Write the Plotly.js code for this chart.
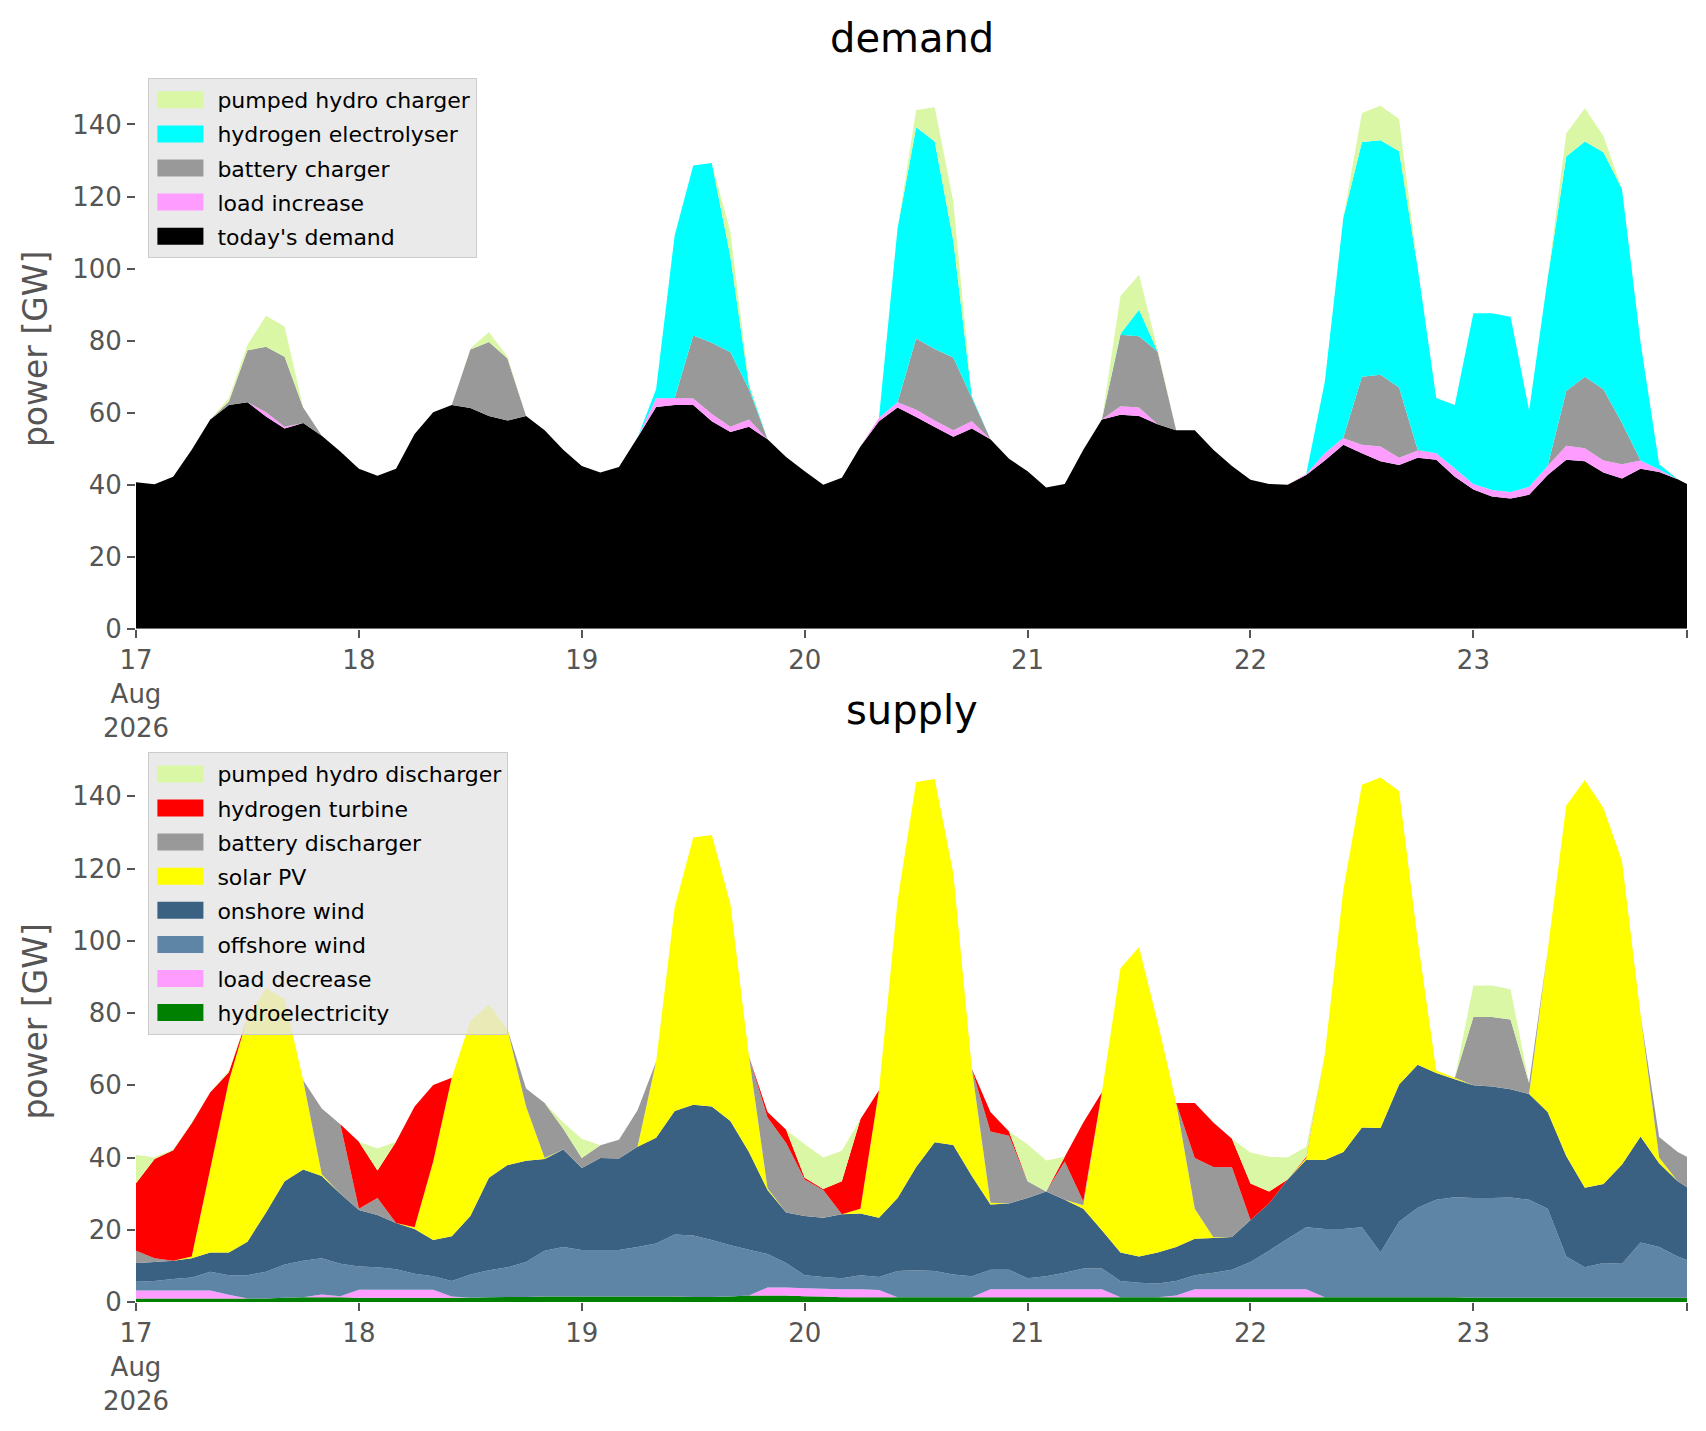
<!DOCTYPE html>
<html>
<head>
<meta charset="utf-8">
<script src="https://cdn.plot.ly/plotly-3.0.1.min.js"></script>
<style>
  body { margin: 0; background: #fff; }
  #chart { width: 1706px; height: 1431px; }
</style>
</head>
<body>
<div id="chart"></div>
<script>
// hours after 17 Aug 2026 00:00, read every two hours
const hours = [0,2,4,6,8,10,12,14,16,18,20,22,24,26,28,30,32,34,36,38,
  40,42,44,46,48,50,52,54,56,58,60,62,64,66,68,70,72,74,76,78,
  80,82,84,86,88,90,92,94,96,98,100,102,104,106,108,110,112,114,116,118,
  120,122,124,126,128,130,132,134,136,138,140,142,144,146,148,150,152,154,156,158,
  160,162,164,166,167];

// demand side [GW]
const todaysDemand = [40.7,40.1,42.2,49.7,58.1,62.1,62.9,58.9,55.6,57.1,
  53.6,49.2,44.4,42.5,44.4,54.1,60.1,62.1,61.3,59.1,
  57.8,59.1,55.1,49.7,45.2,43.4,44.9,53.1,61.6,62.1,
  62.1,57.6,54.6,56.1,52.6,47.7,43.7,40.0,41.9,50.6,
  57.6,61.4,58.8,56.0,53.3,55.6,52.6,47.2,43.7,39.2,
  40.2,49.7,58.1,59.4,59.1,56.8,55.1,55.1,49.7,45.2,
  41.4,40.2,40.0,42.7,46.7,51.1,48.7,46.5,45.5,47.5,
  46.9,42.2,38.7,36.7,36.2,37.2,42.7,46.9,46.5,43.4,
  41.7,44.4,43.5,41.5,40.2];
const loadIncrease = [0,0,0,0,0,0,0,1.2,0.5,0,
  0,0,0,0,0,0,0,0,0,0,
  0,0,0,0,0,0,0,0,2.4,2.0,
  1.8,2.0,1.5,2.0,0,0,0,0,0,0,
  1.0,1.5,2.0,1.8,1.8,2.0,0,0,0,0,
  0,0,0,2.4,2.3,0,0,0,0,0,
  0,0,0,0.3,2.0,1.8,2.4,4.1,2.0,2.0,
  1.8,2.3,1.5,1.8,1.8,2.2,2.5,3.9,3.6,3.3,
  4.0,2.3,0.7,0,0];
const batteryCharger = [0,0,0,0,0,1.0,14.4,18.2,19.4,4.3,
  0,0,0,0,0,0,0,0,16.2,20.5,
  17.2,0,0,0,0,0,0,0,0,0,
  17.5,19.8,20.7,8.4,0,0,0,0,0,0,
  0,0,19.8,19.9,20.2,6.5,0,0,0,0,
  0,0,0,19.8,19.8,20.2,0,0,0,0,
  0,0,0,0,0,0.2,18.9,19.9,19.5,0.2,
  0,0,0,0,0,0,0,15.2,19.9,19.8,
  11.4,0,0,0,0];
const electrolyser = [0,0,0,0,0,0,0,0,0,0,
  0,0,0,0,0,0,0,0,0,0,
  0,0,0,0,0,0,0,0,2.5,45.1,
  47.2,49.9,26.5,1.0,0,0,0,0,0,0,
  0,48.3,58.6,57.6,32.4,0.4,0,0,0,0,
  0,0,0,0.3,7.4,0,0,0,0,0,
  0,0,0,0,19.8,61.1,65.1,65.1,65.6,50.6,
  15.4,17.6,47.4,49.1,48.6,21.2,52.1,65.1,65.3,65.8,
  65.0,32.7,1.5,0,0];
const pumpedCharger = [0,0,0,0,0,1.0,1.5,8.6,8.4,0,
  0,0,0,0,0,0,0,0,0.3,2.8,
  0.5,0,0,0,0,0,0,0,0,0,
  0,0,6.9,0.5,0,0,0,0,0,0,
  0,0,4.8,9.5,11.0,0,0,0,0,0,
  0,0,0,10.5,9.7,0.5,0,0,0,0,
  0,0,0,0,0,0,8.1,9.6,8.9,0,
  0,0,0,0,0,0,0,6.4,9.2,4.5,
  0,0,0,0,0];

// supply side [GW]
const hydro = [1.0,1.0,1.0,1.0,1.0,1.0,1.0,1.0,1.2,1.3,
  1.3,1.3,1.2,1.2,1.2,1.2,1.2,1.2,1.2,1.3,
  1.4,1.4,1.5,1.5,1.5,1.5,1.5,1.5,1.5,1.5,
  1.4,1.4,1.5,1.8,1.8,1.8,1.6,1.5,1.3,1.3,
  1.3,1.3,1.3,1.3,1.3,1.3,1.3,1.3,1.3,1.3,
  1.3,1.3,1.3,1.3,1.3,1.3,1.3,1.3,1.3,1.3,
  1.3,1.3,1.3,1.3,1.3,1.3,1.3,1.3,1.3,1.3,
  1.3,1.3,1.2,1.2,1.2,1.2,1.2,1.2,1.2,1.2,
  1.2,1.2,1.2,1.2,1.2];
const loadDecrease = [2.2,2.2,2.2,2.2,2.2,1.0,0,0,0,0,
  0.8,0.3,2.2,2.2,2.2,2.2,2.2,0.3,0,0,
  0,0,0,0,0,0,0,0,0,0,
  0,0,0,0,2.2,2.2,2.2,2.2,2.2,2.2,
  2.0,0,0,0,0,0,2.2,2.2,2.2,2.2,
  2.2,2.2,2.2,0,0,0,0.5,2.2,2.2,2.2,
  2.2,2.2,2.2,2.2,0,0,0,0,0,0,
  0,0,0,0,0,0,0,0,0,0,
  0,0,0,0,0];
const offshoreWind = [2.4,2.6,3.2,3.6,5.2,5.4,6.4,7.4,9.2,10.1,
  10.0,9.0,6.4,6.2,5.7,4.4,3.7,4.3,6.4,7.5,
  8.2,9.7,12.7,13.7,12.9,12.9,12.9,13.7,14.7,17.2,
  17.0,15.8,14.2,12.7,9.3,6.8,3.6,3.2,3.1,3.9,
  3.6,7.3,7.5,7.3,6.3,5.8,5.4,5.4,3.1,3.6,
  4.6,5.8,5.8,4.5,4.0,3.8,4.0,3.9,4.6,5.4,
  7.6,10.7,14.0,17.2,18.9,18.9,19.4,12.4,20.9,24.8,
  27.0,27.7,27.6,27.6,27.7,27.1,24.6,11.4,8.4,9.6,
  9.4,15.3,14.0,11.4,10.4];
const onshoreWind = [5.2,5.3,5.0,5.3,5.3,6.3,9.3,16.4,23.0,25.3,
  22.8,19.4,15.7,14.5,12.8,12.4,10.1,12.4,16.2,25.6,
  28.3,28.0,25.4,27.0,22.7,25.5,25.3,27.8,29.3,34.2,
  36.2,36.9,34.4,27.0,17.7,14.0,16.4,16.4,17.7,17.1,
  16.4,20.2,28.6,35.6,35.9,27.8,18.1,18.4,22.2,23.5,
  20.2,16.5,10.6,7.9,7.3,8.6,9.4,10.1,9.6,9.1,
  11.6,13.1,16.4,18.7,19.1,21.3,27.6,34.5,38.0,39.6,
  35.1,32.7,31.2,30.9,30.0,29.3,26.8,27.8,22.0,21.9,
  27.5,29.3,23.2,20.8,20.2];
const solarPV = [0,0,0,0.5,23.2,47.5,62.1,62.1,50.5,24.7,
  0.5,0,0,0,0,0.5,21.7,43.9,54.0,48.0,
  37.6,15.0,0.3,0,0,0,0,0,21.0,56.3,
  74.0,75.2,60.1,26.5,0.5,0,0,0,0,1.3,
  35.3,82.4,106.6,100.6,75.2,29.6,0.5,0,0,0,
  0,1.0,38.2,78.7,85.7,63.8,39.9,8.3,0.2,0,
  0,0,0,0.5,29.2,72.7,94.9,97.0,81.3,34.6,
  0.7,0.4,0,0,0,0,44.7,97.1,112.9,104.1,
  84.0,33.6,1.6,0,0];
const batteryDischarger = [3.4,1.0,0,0,0,0,0,0,0,0,
  18.2,19.2,0.3,4.7,0,0,0,0,0,0,
  0,5.0,15.2,5.8,2.8,3.5,5.2,10.1,0,0,
  0,0,0,0,19.6,19.2,10.1,7.7,0,0,
  0,0,0,0,0,0,19.7,18.7,4.6,0,
  10.6,1.0,0,0,0,0,0,14.1,19.5,19.3,
  0,0,0,0,0,0,0,0,0,0,
  0,0,18.9,19.2,19.3,3.0,0,0,0,0,
  0,0,5.7,8.1,8.4];
const hydrogenTurbine = [18.7,27.5,30.6,36.9,21.2,2.4,0,0,0,0,
  0,0,18.6,7.6,22.5,33.4,21.2,0,0,0,
  0,0,0,0,0,0,0,0,0,0,
  0,0,0,0,1.5,3.7,0.5,0.3,9.1,24.8,
  0,0,0,0,0,0,5.4,1.2,0,0,
  1.3,21.9,0,0,0,0,0,15.2,12.3,7.9,
  10.1,3.3,0,0.3,0,0,0,0,0,0,
  0,0,0,0,0,0,0,0,0,0,
  0,0,0,0,0];
const pumpedDischarger = [7.8,0.5,0.2,0.2,0,0.5,0,0,0,0,
  0,0,0,6.1,0,0,0,0,0,0,
  0,0,0,1.7,5.3,0,0,0,0,0,
  0,0,0,0,0,0,9.3,8.7,8.5,0,
  0,0,0,0,0,0,0,0,10.3,8.6,
  0,0,0,0,0,0,0,0,0,0,
  8.6,9.6,6.1,2.8,0,0,0,0,0,0,
  0,0,8.7,8.7,8.4,0,0,0,0,0,
  0,0,0,0,0];

const tickDays = ['2026-08-17','2026-08-18','2026-08-19','2026-08-20','2026-08-21','2026-08-22','2026-08-23'];
const tickLabels = ['17<br>Aug<br>2026','18','19','20','21','22','23'];

function pad(n) { return (n < 10 ? '0' : '') + n; }
const times = hours.map(h => '2026-08-' + pad(17 + Math.floor(h / 24)) + ' ' + pad(h % 24) + ':00');

const FONT = 'DejaVu Sans, Verdana, sans-serif';

// rank: position in the legend, counted from the top
function area(name, values, color, axis, legend, rank) {
  return {
    x: times, y: values, name: name, type: 'scatter', mode: 'none',
    stackgroup: axis, fillcolor: color, line: {width: 0},
    xaxis: axis === 'demand' ? 'x' : 'x2',
    yaxis: axis === 'demand' ? 'y' : 'y2',
    legend: legend, legendgroup: name, legendrank: rank,
    hoverinfo: 'x+y+name'
  };
}

// bottom of each stack first
let traces = [
  area("today's demand", todaysDemand, '#000000', 'demand', 'legend', 5),
  area('load increase', loadIncrease, '#ff9cff', 'demand', 'legend', 4),
  area('battery charger', batteryCharger, '#999999', 'demand', 'legend', 3),
  area('hydrogen electrolyser', electrolyser, '#00ffff', 'demand', 'legend', 2),
  area('pumped hydro charger', pumpedCharger, '#daf7a6', 'demand', 'legend', 1),

  area('hydroelectricity', hydro, '#008000', 'supply', 'legend2', 8),
  area('load decrease', loadDecrease, '#ff9cff', 'supply', 'legend2', 7),
  area('offshore wind', offshoreWind, '#5e84a6', 'supply', 'legend2', 6),
  area('onshore wind', onshoreWind, '#3b6182', 'supply', 'legend2', 5),
  area('solar PV', solarPV, '#ffff00', 'supply', 'legend2', 4),
  area('battery discharger', batteryDischarger, '#999999', 'supply', 'legend2', 3),
  area('hydrogen turbine', hydrogenTurbine, '#ff0000', 'supply', 'legend2', 2),
  area('pumped hydro discharger', pumpedDischarger, '#daf7a6', 'supply', 'legend2', 1)
];

function xAxis(domainAnchor) {
  return {
    type: 'date', anchor: domainAnchor,
    range: ['2026-08-17 00:00', '2026-08-23 23:00'],
    tickvals: tickDays.concat(['2026-08-23 23:00']),
    ticktext: tickLabels.concat(['']),
    ticks: 'outside', ticklen: 8, tickwidth: 1.5, tickcolor: '#555555',
    tickfont: {family: FONT, size: 26, color: '#555555'},
    showgrid: false, zeroline: false, showline: false
  };
}

function yAxis(domain, anchor) {
  return {
    domain: domain, anchor: anchor, range: [0, 155.4],
    tickvals: [0, 20, 40, 60, 80, 100, 120, 140],
    ticks: 'outside', ticklen: 8, tickwidth: 1.5, tickcolor: '#555555',
    tickfont: {family: FONT, size: 26, color: '#555555'},
    title: {text: 'power [GW]', font: {family: FONT, size: 33, color: '#555555'}, standoff: 14},
    showgrid: false, zeroline: false, showline: false
  };
}

function legendBox(y) {
  return {
    x: 0.008, y: y, xanchor: 'left', yanchor: 'top',
    traceorder: 'grouped', tracegroupgap: 2.5,
    bgcolor: 'rgba(229,229,229,0.8)', bordercolor: '#cccccc', borderwidth: 1,
    font: {family: FONT, size: 22, color: '#000000'},
    itemwidth: 58
  };
}

let layout = {
  width: 1706,
  height: 1431,
  margin: {l: 136, r: 19, t: 69, b: 129},
  paper_bgcolor: '#ffffff',
  plot_bgcolor: '#ffffff',
  font: {family: FONT},
  showlegend: true,
  xaxis: xAxis('y'),
  yaxis: yAxis([0.546, 1], 'x'),
  xaxis2: xAxis('y2'),
  yaxis2: yAxis([0, 0.4552], 'x2'),
  legend: legendBox(0.9927),
  legend2: legendBox(0.446),
  annotations: [
    {text: 'demand', xref: 'paper', yref: 'paper', x: 0.5, y: 1.025, yanchor: 'middle',
     showarrow: false, font: {family: FONT, size: 40, color: '#000000'}},
    {text: 'supply', xref: 'paper', yref: 'paper', x: 0.5, y: 0.480, yanchor: 'middle',
     showarrow: false, font: {family: FONT, size: 40, color: '#000000'}}
  ]
};

Plotly.newPlot('chart', traces, layout, {displayModeBar: false}).then(function () {
  // matplotlib-like legend patches instead of thin fill strips
  document.querySelectorAll('#chart .legendfill path').forEach(function (p) {
    p.setAttribute('d', 'M8,-8.5h46v17h-46z');
  });
});
</script>
</body>
</html>
